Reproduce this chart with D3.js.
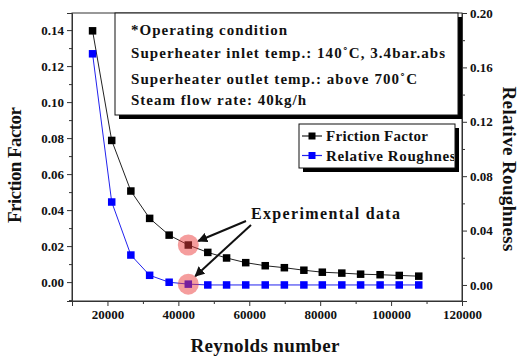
<!DOCTYPE html>
<html><head><meta charset="utf-8">
<script src="https://cdn.jsdelivr.net/npm/d3@7"></script>
<style>
body{margin:0;background:#fff;}
svg text{font-family:"Liberation Serif","Times New Roman",serif !important;font-weight:bold;fill:#111;}
</style></head>
<body><svg id="c" width="528" height="358"></svg>
<script>
const reynolds = [15800, 21200, 26600, 31900, 37400, 42800, 48300, 53600, 59000, 64500, 69900, 75400, 80600, 86100, 91400, 96900, 102300, 107800];
const frictionFactor = [0.1396, 0.0787, 0.0506, 0.0354, 0.0261, 0.0206, 0.0165, 0.0134, 0.0108, 0.0091, 0.0080, 0.0066, 0.0055, 0.0050, 0.0044, 0.0041, 0.0037, 0.0033];
const relativeRoughness = [0.170, 0.061, 0.022, 0.0071, 0.0020, 0.0006, 0, 0, 0, 0, 0, 0, 0, 0, 0, 0, 0, 0];
const experimentalIndex = 5;
const xTicks = [20000, 40000, 60000, 80000, 100000, 120000];
const leftTicks = [0.00, 0.02, 0.04, 0.06, 0.08, 0.10, 0.12, 0.14];
const rightTicks = [0.00, 0.04, 0.08, 0.12, 0.16, 0.20];
const conditionLines = ["*Operating condition", "Superheater inlet temp.: 140\u02DAC, 3.4bar.abs", "Superheater outlet temp.: above 700\u02DAC", "Steam flow rate: 40kg/h"];
const seriesNames = ["Friction Factor", "Relative Roughness"];

const FONT = "'Liberation Serif','Times New Roman',serif";
const svg = d3.select("#c");
const L = 72, R = 462, T = 13, B = 301;
const x = d3.scaleLinear().domain([10000, 120000]).range([L, R]);
const yL = d3.scaleLinear().domain([-0.0105, 0.1495]).range([B, T]);
const yR = d3.scaleLinear().domain([-0.0118, 0.2]).range([B, T]);

// frame
svg.append("rect").attr("x", L).attr("y", T).attr("width", R - L).attr("height", B - T)
  .attr("fill", "none").attr("stroke", "#333").attr("stroke-width", 1);

// axes
const fmt2 = d3.format(".2f");
function styleAxis(g){
  g.attr("font-family", FONT).attr("font-size", 13).attr("font-weight", "bold");
  g.select(".domain").attr("stroke","#333"); g.selectAll(".tick line").attr("stroke","#333");
  g.selectAll("text").attr("fill","#111");
}
const gx = svg.append("g").attr("transform", `translate(0,${B})`)
  .call(d3.axisBottom(x).tickValues(xTicks).tickFormat(d3.format("d")).tickSize(5).tickPadding(4));
styleAxis(gx);
svg.append("g").attr("transform", `translate(0,${B})`)
  .call(d3.axisBottom(x).tickValues([10000,30000,50000,70000,90000,110000]).tickFormat("").tickSize(3))
  .call(g=>{g.select(".domain").remove(); g.selectAll("line").attr("stroke","#333");});
const gl = svg.append("g").attr("transform", `translate(${L},0)`)
  .call(d3.axisLeft(yL).tickValues(leftTicks).tickFormat(fmt2).tickSize(5).tickPadding(3));
styleAxis(gl);
svg.append("g").attr("transform", `translate(${L},0)`)
  .call(d3.axisLeft(yL).tickValues([-0.01,0.01,0.03,0.05,0.07,0.09,0.11,0.13]).tickFormat("").tickSize(3))
  .call(g=>{g.select(".domain").remove(); g.selectAll("line").attr("stroke","#333");});
const gr = svg.append("g").attr("transform", `translate(${R},0)`)
  .call(d3.axisRight(yR).tickValues(rightTicks).tickFormat(fmt2).tickSize(5).tickPadding(3));
styleAxis(gr);
svg.append("g").attr("transform", `translate(${R},0)`)
  .call(d3.axisRight(yR).tickValues([0.02,0.06,0.10,0.14,0.18]).tickFormat("").tickSize(3))
  .call(g=>{g.select(".domain").remove(); g.selectAll("line").attr("stroke","#333");});

// axis titles
svg.append("text").attr("transform", `translate(21,${(T+B)/2 + 8}) rotate(-90)`).attr("text-anchor","middle")
  .attr("font-size", 19).attr("textLength", 116).attr("lengthAdjust","spacing").text("Friction Factor");
svg.append("text").attr("transform", `translate(503,${(T+B)/2 + 12}) rotate(90)`).attr("text-anchor","middle")
  .attr("font-size", 19).attr("textLength", 165).attr("lengthAdjust","spacing").text("Relative Roughness");
svg.append("text").attr("x", 265).attr("y", 352).attr("text-anchor","middle")
  .attr("font-size", 19).attr("textLength", 149).attr("lengthAdjust","spacing").text("Reynolds number");

// lines
const lineF = d3.line().x((d,i)=>x(reynolds[i])).y(d=>yL(d));
const lineR = d3.line().x((d,i)=>x(reynolds[i])).y(d=>yR(d));
svg.append("path").attr("d", lineF(frictionFactor)).attr("fill","none").attr("stroke","#222").attr("stroke-width",1);
svg.append("path").attr("d", lineR(relativeRoughness)).attr("fill","none").attr("stroke","#2222ee").attr("stroke-width",1);
const ms = 7.5;
svg.selectAll(".mf").data(frictionFactor).enter().append("rect")
  .attr("x",(d,i)=>x(reynolds[i])-ms/2).attr("y",d=>yL(d)-ms/2).attr("width",ms).attr("height",ms).attr("fill","#000");
svg.selectAll(".mr").data(relativeRoughness).enter().append("rect")
  .attr("x",(d,i)=>x(reynolds[i])-ms/2).attr("y",d=>yR(d)-ms/2).attr("width",ms).attr("height",ms).attr("fill","#0000ff");

// experimental highlight circles
const ei = experimentalIndex;
const cF = [x(reynolds[ei]), yL(frictionFactor[ei])];
const cR = [x(reynolds[ei]), yR(relativeRoughness[ei])];
[cF, cR].forEach(c => svg.append("circle").attr("cx", c[0]).attr("cy", c[1]).attr("r", 10.5)
  .attr("fill", "rgb(235,60,60)").attr("fill-opacity", 0.5));

// annotation
svg.append("text").attr("x", 251).attr("y", 219).attr("font-size", 16)
  .attr("textLength", 149).attr("lengthAdjust","spacing").text("Experimental data");
const defs = svg.append("defs");
defs.append("marker").attr("id","ah").attr("viewBox","0 0 10 10").attr("refX",9).attr("refY",5)
  .attr("markerWidth",5).attr("markerHeight",5).attr("orient","auto")
  .append("path").attr("d","M0,0 L10,5 L0,10 z").attr("fill","#111");
svg.append("line").attr("x1",246).attr("y1",221).attr("x2",cF[0]+10).attr("y2",cF[1]-4)
  .attr("stroke","#111").attr("stroke-width",2).attr("marker-end","url(#ah)");
svg.append("line").attr("x1",251).attr("y1",225).attr("x2",cR[0]+7).attr("y2",cR[1]-8)
  .attr("stroke","#111").attr("stroke-width",2).attr("marker-end","url(#ah)");

// condition box
svg.append("rect").attr("x",119).attr("y",T+4).attr("width",343).attr("height",102).attr("fill","#000");
svg.append("rect").attr("x",115).attr("y",T).attr("width",343).attr("height",102).attr("fill","#fff").attr("stroke","#111").attr("stroke-width",1);
const lineY = [35, 58, 84, 105];
const lineW = [156, 314, 286, 175];
conditionLines.forEach((t,i)=> svg.append("text").attr("x",131).attr("y",lineY[i]).attr("font-size",15)
  .attr("textLength", lineW[i]).attr("lengthAdjust","spacing").text(t));

// legend
svg.append("rect").attr("x",303).attr("y",128).attr("width",156).attr("height",44).attr("fill","#000");
svg.append("rect").attr("x",299).attr("y",124).attr("width",156).attr("height",44).attr("fill","#fff").attr("stroke","#111").attr("stroke-width",1);
defs.append("clipPath").attr("id","lc").append("rect").attr("x",299).attr("y",124).attr("width",155).attr("height",44);
const legColors = ["#000", "#0000ff"];
const legLine = ["#222", "#2222ee"];
const lg = svg.append("g").attr("clip-path","url(#lc)");
seriesNames.forEach((n,i)=>{
  const cy = 136 + i*19.5;
  lg.append("line").attr("x1",302).attr("x2",322).attr("y1",cy).attr("y2",cy).attr("stroke",legLine[i]).attr("stroke-width",1.2);
  lg.append("rect").attr("x",312-3.5).attr("y",cy-3.5).attr("width",7).attr("height",7).attr("fill",legColors[i]);
  lg.append("text").attr("x",326).attr("y",cy+5).attr("font-size",15)
    .attr("textLength", i===0 ? 102 : 136).attr("lengthAdjust","spacing").text(n);
});
</script></body></html>
